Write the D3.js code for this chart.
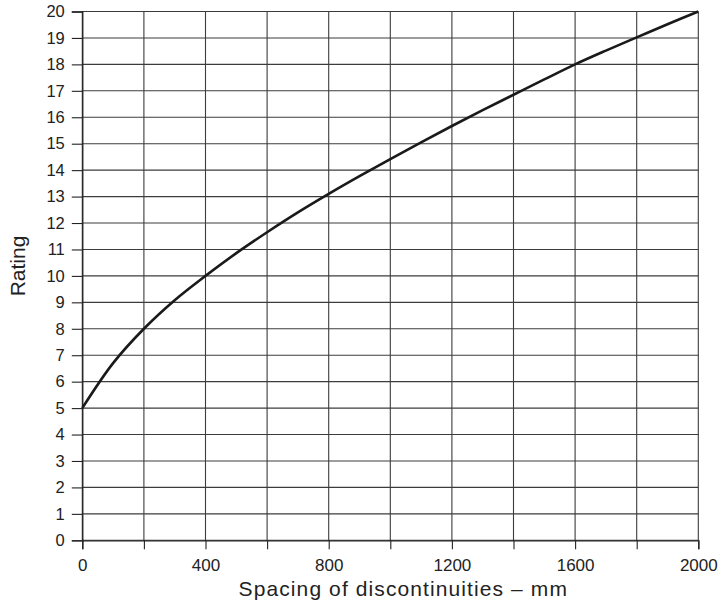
<!DOCTYPE html>
<html>
<head>
<meta charset="utf-8">
<script src="https://cdn.jsdelivr.net/npm/d3@7"></script>
<style>
  html, body { margin: 0; padding: 0; background: #fff; }
  svg { display: block; font-family: "Liberation Sans", Arial, Helvetica, sans-serif; }
</style>
</head>
<body>
<svg id="chart" width="722" height="606"></svg>
<script>
// Data
const spacing = [0, 100, 200, 300, 400, 500, 600, 700, 800, 900, 1000, 1100, 1200, 1300, 1400, 1500, 1600, 1700, 1800, 1900, 2000];
const rating  = [5, 6.7, 8, 9.08, 10, 10.86, 11.65, 12.4, 13.1, 13.77, 14.42, 15.05, 15.67, 16.27, 16.85, 17.43, 18, 18.52, 19.02, 19.52, 20];
const xTickLabels = [0, 400, 800, 1200, 1600, 2000];
const xGridValues = [0, 200, 400, 600, 800, 1000, 1200, 1400, 1600, 1800, 2000];
const yTickValues = [0,1,2,3,4,5,6,7,8,9,10,11,12,13,14,15,16,17,18,19,20];
const xTitle = "Spacing of discontinuities \u2013 mm";
const yTitle = "Rating";

(function () {
const svg = d3.select("#chart");
const mLeft = 82.3, mRight = 698.3, mTop = 11.5, mBottom = 540.3;

const x = d3.scaleLinear().domain([0, 2000]).range([mLeft, mRight]);
const y = d3.scaleLinear().domain([0, 20]).range([mBottom, mTop]);

const gridColor = "#3c3c3c";

// horizontal gridlines
svg.append("g").selectAll("line").data(yTickValues).join("line")
  .attr("x1", mLeft).attr("x2", mRight)
  .attr("y1", d => y(d)).attr("y2", d => y(d))
  .attr("stroke", gridColor).attr("stroke-width", 1.1);

// vertical gridlines
svg.append("g").selectAll("line").data(xGridValues).join("line")
  .attr("x1", d => x(d)).attr("x2", d => x(d))
  .attr("y1", mTop).attr("y2", mBottom)
  .attr("stroke", gridColor).attr("stroke-width", 1.1);

// Y axis
const yAxis = svg.append("g")
  .attr("transform", `translate(${mLeft},0)`)
  .call(d3.axisLeft(y).tickValues(yTickValues).tickSize(10.5).tickPadding(7).tickFormat(d3.format("d")));
yAxis.select(".domain").attr("stroke", "#222").attr("stroke-width", 1.3);
yAxis.selectAll(".tick line").attr("stroke", "#222").attr("stroke-width", 1.1);
yAxis.selectAll("text").attr("font-size", "16.5px").attr("fill", "#222")
  .attr("font-family", "'Liberation Sans', Arial, sans-serif");

// X axis
const xAxis = svg.append("g")
  .attr("transform", `translate(0,${mBottom})`)
  .call(d3.axisBottom(x).tickValues(xGridValues).tickSize(9).tickPadding(10)
    .tickFormat(d => xTickLabels.includes(d) ? d3.format("d")(d) : ""));
xAxis.select(".domain").attr("stroke", "#222").attr("stroke-width", 1.3);
xAxis.selectAll(".tick line").attr("stroke", "#222").attr("stroke-width", 1.1);
xAxis.selectAll("text").attr("font-size", "17px").attr("fill", "#222")
  .attr("font-family", "'Liberation Sans', Arial, sans-serif");

// Curve
const line = d3.line()
  .x((d, i) => x(spacing[i]))
  .y((d, i) => y(rating[i]))
  .curve(d3.curveCatmullRom.alpha(0.5));
svg.append("path")
  .datum(rating)
  .attr("d", line)
  .attr("fill", "none")
  .attr("stroke", "#1a1a1a")
  .attr("stroke-width", 2.6)
  .attr("stroke-linejoin", "round");

// Axis titles
svg.append("text")
  .attr("x", (mLeft + mRight) / 2 + 13)
  .attr("y", 596)
  .attr("text-anchor", "middle")
  .attr("font-size", "21px")
  .attr("letter-spacing", "1.1px")
  .attr("fill", "#222")
  .text(xTitle);

svg.append("text")
  .attr("transform", `translate(25,266) rotate(-90)`)
  .attr("text-anchor", "middle")
  .attr("font-size", "21px")
  .attr("fill", "#222")
  .text(yTitle);
})();
</script>
</body>
</html>
